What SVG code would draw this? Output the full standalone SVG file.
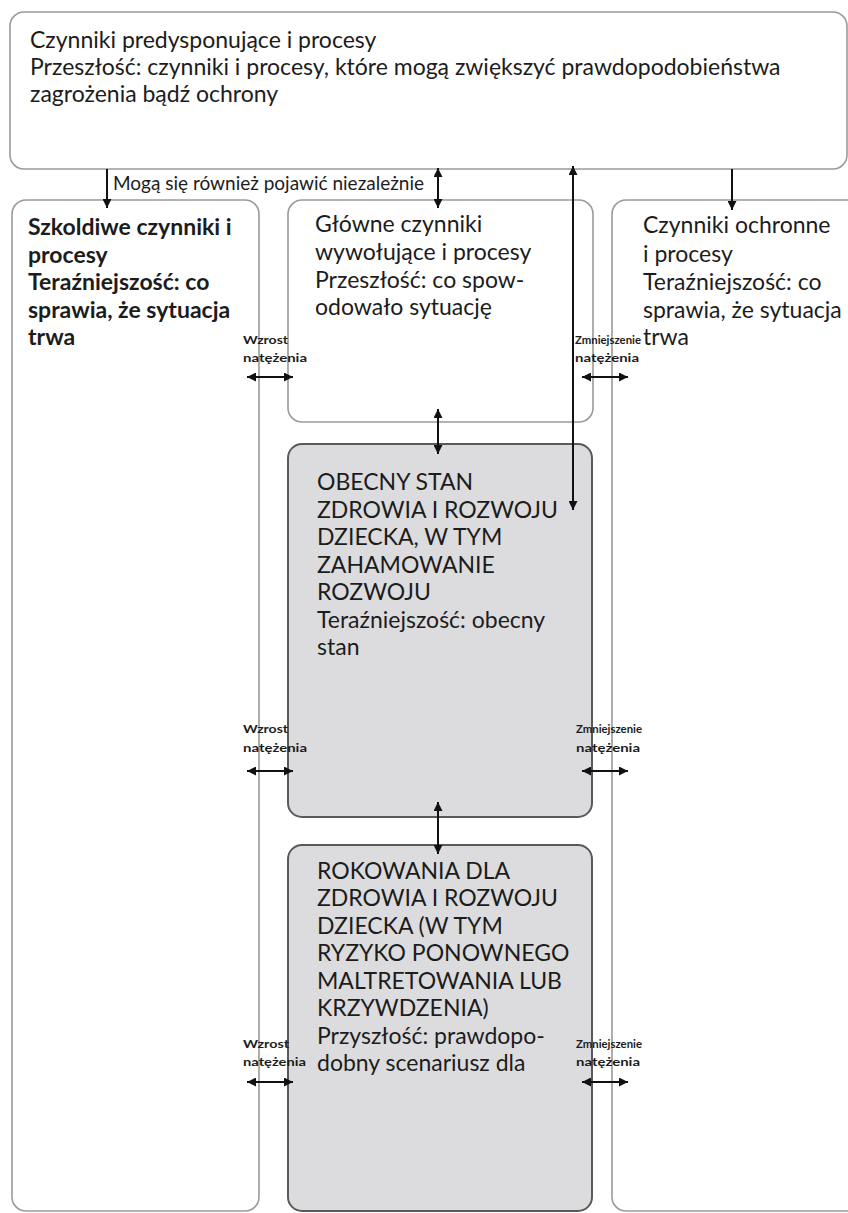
<svg xmlns="http://www.w3.org/2000/svg" width="848" height="1213" viewBox="0 0 848 1213">
<defs>
<marker id="ah" viewBox="0 0 10 10" refX="10" refY="5" markerWidth="9" markerHeight="9" markerUnits="userSpaceOnUse" orient="auto-start-reverse">
<path d="M0,0 L10,5 L0,10 z" fill="#111"/>
</marker>
<style>
.box{fill:#fff;stroke:#9a9a9a;stroke-width:1.6}
.gbox{fill:#dcdcde;stroke:#5a5a5a;stroke-width:2}
.t{font-family:Lato,"Liberation Sans",sans-serif;font-size:23px;fill:#1c1c1c}
.b{font-weight:bold}
.s{font-family:Lato,"Liberation Sans",sans-serif;font-size:12px;font-weight:bold;fill:#1c1c1c}
.m{font-family:Lato,"Liberation Sans",sans-serif;font-size:19px;fill:#1c1c1c}
.c{stroke:#111;stroke-width:2;fill:none}
.c1{marker-end:url(#ah)}
.c2{marker-start:url(#ah);marker-end:url(#ah)}
</style>
</defs>
<rect width="848" height="1213" fill="#fff"/>

<g id="predisposing">
<rect class="box" x="10" y="12" width="837" height="157" rx="14"/>
<text class="t" x="30" y="48">Czynniki predysponujące i procesy</text>
<text class="t" x="30" y="75">Przeszłość: czynniki i procesy, które mogą zwiększyć prawdopodobieństwa</text>
<text class="t" x="30" y="102">zagrożenia bądź ochrony</text>
</g>

<g id="harmful">
<rect class="box" x="12" y="200" width="247" height="1011" rx="14"/>
<text class="t b" x="28" y="235">Szkoldiwe czynniki i</text>
<text class="t b" x="28" y="263">procesy</text>
<text class="t b" x="28" y="290">Teraźniejszość: co</text>
<text class="t b" x="28" y="318">sprawia, że sytuacja</text>
<text class="t b" x="28" y="345">trwa</text>
</g>

<g id="triggering">
<rect class="box" x="288" y="200" width="305" height="222" rx="14"/>
<text class="t" x="315" y="232">Główne czynniki</text>
<text class="t" x="315" y="260">wywołujące i procesy</text>
<text class="t" x="315" y="288">Przeszłość: co spow-</text>
<text class="t" x="315" y="315">odowało sytuację</text>
</g>

<g id="protective">
<rect class="box" x="612" y="200" width="250" height="1011" rx="14"/>
<text class="t" x="643" y="233">Czynniki ochronne</text>
<text class="t" x="643" y="262">i procesy</text>
<text class="t" x="643" y="290">Teraźniejszość: co</text>
<text class="t" x="643" y="318">sprawia, że sytuacja</text>
<text class="t" x="643" y="345">trwa</text>
</g>

<g id="current">
<rect class="gbox" x="288" y="444" width="304" height="373" rx="14"/>
<text class="t" x="317" y="490">OBECNY STAN</text>
<text class="t" x="317" y="518">ZDROWIA I ROZWOJU</text>
<text class="t" x="317" y="545">DZIECKA, W TYM</text>
<text class="t" x="317" y="573">ZAHAMOWANIE</text>
<text class="t" x="317" y="600">ROZWOJU</text>
<text class="t" x="317" y="628">Teraźniejszość: obecny</text>
<text class="t" x="317" y="655">stan</text>
</g>

<g id="prognosis">
<rect class="gbox" x="288" y="845" width="304" height="366" rx="14"/>
<text class="t" x="317" y="879">ROKOWANIA DLA</text>
<text class="t" x="317" y="906">ZDROWIA I ROZWOJU</text>
<text class="t" x="317" y="934">DZIECKA (W TYM</text>
<text class="t" x="317" y="961">RYZYKO PONOWNEGO</text>
<text class="t" x="317" y="989">MALTRETOWANIA LUB</text>
<text class="t" x="317" y="1016">KRZYWDZENIA)</text>
<text class="t" x="317" y="1044">Przyszłość: prawdopo-</text>
<text class="t" x="317" y="1071">dobny scenariusz dla</text>
</g>

<g id="connectors">
<path class="c c1" d="M107,169 V208"/>
<path class="c c2" d="M438,168 V208"/>
<path class="c c2" d="M573,166 V510"/>
<path class="c c1" d="M732,169 V210"/>
<path class="c c2" d="M438,409 V454"/>
<path class="c c2" d="M438,802 V854"/>
<path class="c c2" d="M247,377 H293"/>
<path class="c c2" d="M582,377 H628"/>
<path class="c c2" d="M247,771 H293"/>
<path class="c c2" d="M582,771 H628"/>
<path class="c c2" d="M247,1082 H293"/>
<path class="c c2" d="M582,1082 H628"/>
<text class="m" x="113" y="190">Mogą się również pojawić niezależnie</text>
<text class="s" x="243" y="344" textLength="45" lengthAdjust="spacingAndGlyphs">Wzrost</text>
<text class="s" x="243" y="362" textLength="64" lengthAdjust="spacingAndGlyphs">natężenia</text>
<text class="s" x="575" y="344" textLength="66" lengthAdjust="spacingAndGlyphs">Zmniejszenie</text>
<text class="s" x="575" y="362" textLength="64" lengthAdjust="spacingAndGlyphs">natężenia</text>
<text class="s" x="243" y="733" textLength="45" lengthAdjust="spacingAndGlyphs">Wzrost</text>
<text class="s" x="243" y="752" textLength="64" lengthAdjust="spacingAndGlyphs">natężenia</text>
<text class="s" x="576" y="733" textLength="66" lengthAdjust="spacingAndGlyphs">Zmniejszenie</text>
<text class="s" x="576" y="752" textLength="64" lengthAdjust="spacingAndGlyphs">natężenia</text>
<text class="s" x="243" y="1048" textLength="46" lengthAdjust="spacingAndGlyphs">Wzrost</text>
<text class="s" x="243" y="1066" textLength="63" lengthAdjust="spacingAndGlyphs">natężenia</text>
<text class="s" x="576" y="1048" textLength="66" lengthAdjust="spacingAndGlyphs">Zmniejszenie</text>
<text class="s" x="576" y="1066" textLength="64" lengthAdjust="spacingAndGlyphs">natężenia</text>
</g>
</svg>
